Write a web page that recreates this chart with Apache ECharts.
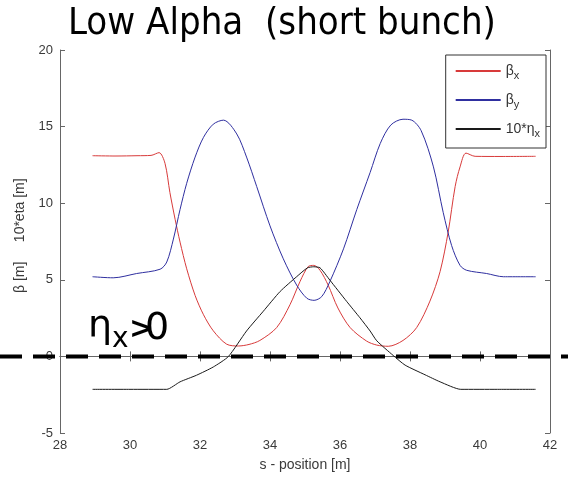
<!DOCTYPE html>
<html>
<head>
<meta charset="utf-8">
<script src="https://cdn.jsdelivr.net/npm/echarts@6/dist/echarts.min.js"></script>
<style>
  html, body { margin: 0; padding: 0; background: #fff; }
  #chart { width: 568px; height: 477px; }
</style>
</head>
<body>
<div id="chart"></div>
<script>
// Lattice functions along the low-alpha cell: s-position [m] and values
const sBetaX = [28.93, 29.6, 30.2, 30.6, 30.83, 31.0, 31.14, 31.29, 31.43, 31.62, 31.86, 32.1, 32.38, 32.76, 33.1, 33.4, 33.71, 34.19, 34.57, 34.86, 35.09, 35.25, 35.43, 35.66, 35.94, 36.29, 36.76, 37.05, 37.38, 37.8, 38.19, 38.57, 38.86, 39.09, 39.29, 39.43, 39.6, 39.86, 40.6, 41.59];
const betaX  = [13.1, 13.08, 13.1, 13.12, 13.3, 12.6, 10.7, 8.94, 7.46, 5.72, 3.98, 2.72, 1.67, 0.8, 0.68, 0.78, 1.04, 1.88, 3.37, 4.9, 5.86, 5.94, 5.62, 4.66, 3.16, 1.88, 1.0, 0.74, 0.66, 1.04, 1.88, 3.61, 5.54, 8.11, 11.09, 12.37, 13.27, 13.06, 13.05, 13.06];

const sBetaY = [28.93, 29.52, 30.19, 30.86, 31.05, 31.24, 31.43, 31.62, 31.86, 32.1, 32.38, 32.67, 33.05, 33.33, 33.62, 34.0, 34.38, 34.76, 35.05, 35.26, 35.48, 35.71, 36.1, 36.48, 36.86, 37.15, 37.45, 37.8, 38.05, 38.32, 38.67, 38.95, 39.19, 39.43, 39.62, 40.19, 40.67, 41.59];
const betaY  = [5.2, 5.13, 5.41, 5.69, 6.16, 7.66, 9.59, 11.3, 13.01, 14.3, 15.16, 15.42, 14.52, 13.01, 11.09, 8.52, 6.37, 4.66, 3.8, 3.66, 3.91, 4.88, 7.02, 9.59, 12.0, 13.9, 15.1, 15.48, 15.42, 14.73, 12.37, 9.38, 7.23, 5.94, 5.62, 5.41, 5.2, 5.2];

const sEta  = [28.93, 30.0, 31.05, 31.43, 31.9, 32.38, 32.81, 33.33, 33.81, 34.29, 34.76, 35.07, 35.25, 35.43, 35.71, 36.19, 36.57, 36.86, 37.05, 37.52, 37.86, 38.43, 38.86, 39.45, 40.5, 41.59];
const eta10 = [-2.15, -2.15, -2.15, -1.66, -1.23, -0.69, -0.01, 1.66, 2.95, 4.24, 5.2, 5.78, 5.85, 5.78, 4.98, 3.59, 2.52, 1.66, 1.02, 0.06, -0.57, -1.2, -1.66, -2.15, -2.15, -2.15];

// Axis ranges and tick steps
const sRange = [28, 42], sStep = 2;
const yRange = [-5, 20], yStep = 5;

const seriesNames = ['βx', 'βy', '10*ηx'];
const seriesColors = ['#d83a3a', '#2f2fa0', '#1a1a1a'];
const legendRich = { 'βx': '{b|β}{s|x}', 'βy': '{b|β}{s|y}', '10*ηx': '{b|10*η}{s|x}' };

const pairs = (xs, ys) => xs.map((x, i) => [x, ys[i]]);

const chart = echarts.init(document.getElementById('chart'), null, { renderer: 'canvas' });

const sansFont = 'Liberation Sans, Arial, sans-serif';
const labelFont = { fontFamily: sansFont, fontSize: 13, color: '#3a3a3a' };
const frame = { show: true, lineStyle: { color: '#666', width: 1 } };
const innerTick = { show: true, inside: true, length: 5, lineStyle: { color: '#666' } };

const option = {
  animation: false,
  backgroundColor: '#fff',
  title: {
    text: 'Low Alpha  (short bunch)',
    left: 63,
    top: 0,
    textStyle: { fontFamily: 'DejaVu Sans Condensed, DejaVu Sans, sans-serif', fontSize: 38, fontWeight: 'normal', color: '#000' }
  },
  grid: { left: 60, right: 18, top: 50, bottom: 40 },
  legend: {
    orient: 'vertical',
    right: 22,
    top: 55,
    backgroundColor: '#fff',
    borderColor: '#333',
    borderWidth: 1,
    borderRadius: 0,
    padding: [9, 6, 9, 9],
    itemWidth: 45,
    itemHeight: 14,
    itemGap: 12,
    itemStyle: { opacity: 0 },
    data: seriesNames,
    formatter: name => legendRich[name],
    textStyle: {
      color: '#333',
      fontFamily: sansFont,
      rich: {
        b: { fontSize: 14, color: '#333', fontFamily: sansFont },
        s: { fontSize: 11, color: '#333', padding: [9, 0, 0, 0], fontFamily: sansFont }
      }
    }
  },
  xAxis: [
    {
      type: 'value', min: sRange[0], max: sRange[1], interval: sStep, position: 'bottom',
      name: 's - position [m]', nameLocation: 'middle', nameGap: 25,
      nameTextStyle: Object.assign({}, labelFont, { fontSize: 14 }),
      axisLine: frame, axisTick: innerTick, splitLine: { show: false },
      axisLabel: Object.assign({ margin: 6 }, labelFont)
    },
    {
      type: 'value', min: sRange[0], max: sRange[1], interval: sStep, position: 'top',
      axisLine: frame, axisTick: innerTick, splitLine: { show: false }, axisLabel: { show: false }
    }
  ],
  yAxis: [
    {
      type: 'value', min: yRange[0], max: yRange[1], interval: yStep, position: 'left',
      name: '   β [m]     10*eta [m]', nameLocation: 'middle', nameGap: 23,
      nameTextStyle: Object.assign({}, labelFont, { fontSize: 14 }),
      axisLine: frame, axisTick: innerTick, splitLine: { show: false },
      axisLabel: Object.assign({ margin: 7 }, labelFont)
    },
    {
      type: 'value', min: yRange[0], max: yRange[1], interval: yStep, position: 'right',
      axisLine: frame, axisTick: innerTick, splitLine: { show: false }, axisLabel: { show: false }
    }
  ],
  series: [
    { name: seriesNames[0], type: 'line', data: pairs(sBetaX, betaX), smooth: 0.3, symbol: 'none',
      lineStyle: { color: seriesColors[0], width: 1 }, itemStyle: { color: seriesColors[0] } },
    { name: seriesNames[1], type: 'line', data: pairs(sBetaY, betaY), smooth: 0.3, symbol: 'none',
      lineStyle: { color: seriesColors[1], width: 1 }, itemStyle: { color: seriesColors[1] } },
    { name: seriesNames[2], type: 'line', data: pairs(sEta, eta10), smooth: 0.2, symbol: 'none',
      lineStyle: { color: seriesColors[2], width: 1 }, itemStyle: { color: seriesColors[2] } }
  ]
};

chart.setOption(option);

// Dispersion-zero reference line across the whole figure, and its annotation
const etaZero = 0;
const zeroY = chart.convertToPixel({ yAxisIndex: 0 }, etaZero);
const anchor = chart.convertToPixel({ xAxisIndex: 0, yAxisIndex: 0 }, [28.8, etaZero]);
const annoFont = 'DejaVu Sans, sans-serif';

chart.setOption({
  graphic: [
    {
      type: 'line', z: 100,
      shape: { x1: 0, y1: zeroY, x2: chart.getWidth(), y2: zeroY },
      style: { stroke: '#000', lineWidth: 4, lineDash: [22, 11] }
    },
    {
      type: 'group', x: anchor[0], y: anchor[1], z: 101,
      children: [
        { type: 'text', x: 0, y: -10, style: { text: 'η', font: '38px ' + annoFont, fill: '#000', textVerticalAlign: 'bottom' } },
        { type: 'text', x: 24, y: -3, style: { text: 'x', font: '28px ' + annoFont, fill: '#000', textVerticalAlign: 'bottom' } },
        { type: 'text', x: 41, y: -11, style: { text: '>', font: 'bold 30px ' + annoFont, fill: '#000', textVerticalAlign: 'bottom' } },
        { type: 'text', x: 57, y: -8, style: { text: '0', font: '38px ' + annoFont, fill: '#000', textVerticalAlign: 'bottom' } }
      ]
    }
  ]
});
</script>
</body>
</html>
